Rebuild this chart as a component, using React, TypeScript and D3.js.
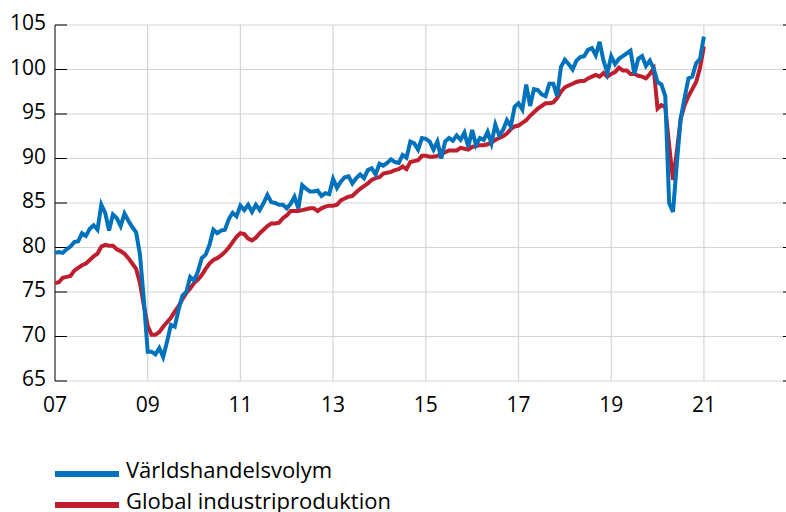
import React, { useRef, useEffect } from "react";
import * as d3 from "d3";

// monthly index values, Jan 2007 - Jan 2021
const startYear = 2007;

const tradeVolume = [
  // 2007
  79.4, 79.5, 79.4, 79.8, 80.1, 80.6, 80.7, 81.6, 81.3, 82.1, 82.5, 82.0,
  // 2008
  84.8, 83.9, 81.9, 83.7, 83.3, 82.4, 83.8, 83.0, 82.3, 81.7, 79.2, 74.1,
  // 2009
  68.3, 68.3, 68.0, 68.7, 67.7, 69.4, 71.3, 71.1, 73.0, 74.6, 75.0, 76.7,
  // 2010
  76.3, 77.3, 78.8, 79.2, 80.3, 82.0, 81.6, 81.9, 82.0, 83.2, 83.9, 83.5,
  // 2011
  84.7, 84.2, 84.8, 84.0, 84.8, 84.2, 85.0, 85.9, 85.1, 85.0, 84.8, 84.8,
  // 2012
  84.4, 84.9, 85.7, 84.4, 87.0, 86.6, 86.3, 86.3, 86.4, 85.8, 86.1, 86.0,
  // 2013
  87.7, 86.7, 87.4, 87.9, 88.0, 87.2, 87.8, 88.2, 87.8, 88.7, 88.9, 88.2,
  // 2014
  89.4, 89.2, 89.5, 89.9, 89.6, 89.5, 90.4, 90.1, 91.9, 91.7, 91.0, 92.3,
  // 2015
  92.2, 91.9, 91.0, 91.9, 90.0, 91.9, 92.3, 92.0, 92.6, 92.1, 92.9, 91.3,
  // 2016
  93.2, 91.5, 92.3, 92.1, 93.0, 91.7, 93.8, 92.6, 93.2, 94.3, 93.6, 95.8,
  // 2017
  96.2, 95.5, 98.3, 95.9, 97.8, 97.7, 97.2, 97.0, 98.4, 98.4, 97.0, 100.3,
  // 2018
  101.1, 100.6, 100.0, 101.0, 101.4, 101.5, 102.2, 102.4, 101.6, 103.1, 101.0, 99.6,
  // 2019
  101.5, 100.6, 101.2, 101.5, 101.8, 102.1, 99.5, 101.2, 101.5, 100.4, 101.0, 100.1,
  // 2020
  98.6, 98.3, 97.0, 85.0, 84.0, 89.5, 94.5, 96.8, 99.0, 99.2, 100.7, 101.2,
  // 2021
  103.7,
];

const industrialProduction = [
  // 2007
  76.0, 76.1, 76.6, 76.7, 76.8, 77.4, 77.7, 78.0, 78.2, 78.6, 79.0, 79.3,
  // 2008
  80.1, 80.3, 80.2, 80.2, 79.8, 79.6, 79.3, 78.8, 78.2, 77.6, 76.0, 73.5,
  // 2009
  71.2, 70.2, 70.2, 70.5, 71.1, 71.6, 72.1, 72.8, 73.4, 74.2, 74.9, 75.4,
  // 2010
  76.0, 76.4, 76.9, 77.6, 78.2, 78.6, 78.8, 79.1, 79.5, 80.0, 80.6, 81.2,
  // 2011
  81.6, 81.5, 81.0, 80.8, 81.1, 81.6, 82.0, 82.4, 82.7, 82.7, 82.8, 83.3,
  // 2012
  83.6, 84.1, 84.1, 84.1, 84.2, 84.3, 84.4, 84.4, 84.1, 84.4, 84.6, 84.7,
  // 2013
  84.7, 84.8, 85.3, 85.5, 85.7, 85.8, 86.2, 86.6, 86.9, 87.2, 87.6, 87.8,
  // 2014
  87.9, 88.3, 88.4, 88.5, 88.7, 88.8, 89.1, 88.8, 89.6, 89.7, 89.8, 90.3,
  // 2015
  90.3, 90.2, 90.2, 90.3, 90.5, 90.7, 90.9, 90.9, 90.9, 91.2, 91.1, 91.0,
  // 2016
  91.3, 91.4, 91.5, 91.5, 91.6, 91.8, 92.1, 92.3, 92.5, 92.8, 93.3, 93.6,
  // 2017
  93.7, 94.0, 94.3, 94.8, 95.2, 95.6, 95.9, 96.2, 96.2, 96.3, 96.8, 97.5,
  // 2018
  98.0, 98.2, 98.4, 98.6, 98.7, 98.7, 99.0, 99.2, 99.4, 99.2, 99.6, 99.2,
  // 2019
  99.5, 99.7, 100.2, 99.9, 99.9, 99.5, 99.5, 99.3, 99.2, 99.0, 99.5, 100.1,
  // 2020
  95.6, 96.0, 95.8, 91.5, 87.6, 90.8, 94.5, 96.0, 97.0, 97.8, 98.6, 100.2,
  // 2021
  102.6,
];

const seriesNames = ["Världshandelsvolym", "Global industriproduktion"];
const seriesColors = ["#0072bb", "#be1e2d"];

const yTicks = [65, 70, 75, 80, 85, 90, 95, 100, 105];
const xTickYears = [2007, 2009, 2011, 2013, 2015, 2017, 2019, 2021];
const xTickLabels = ["07", "09", "11", "13", "15", "17", "19", "21"];
const xGridYears = [2009, 2011, 2013, 2015, 2017, 2019, 2021];

function App() {
  const svgRef = useRef(null);

  useEffect(() => {
    const svg = d3.select(svgRef.current);
    svg.selectAll("*").remove();

    const width = 786;
    const font = "'Open Sans', sans-serif";

    const left = 55;
    const top = 25;
    const bottom = 381;

    const xScale = d3
      .scaleLinear()
      .domain([2007, 2023])
      .range([left, left + 16 * 46.35]);
    const yScale = d3.scaleLinear().domain([65, 105]).range([bottom, top]);

    const grid = svg.append("g");

    // horizontal gridlines
    grid
      .selectAll(".hgrid")
      .data(yTicks)
      .enter()
      .append("line")
      .attr("x1", left)
      .attr("x2", width)
      .attr("y1", (d) => yScale(d))
      .attr("y2", (d) => yScale(d))
      .attr("stroke", "#d4d4d4")
      .attr("stroke-width", 1.2);

    // vertical gridlines
    grid
      .selectAll(".vgrid")
      .data(xGridYears)
      .enter()
      .append("line")
      .attr("x1", (d) => xScale(d))
      .attr("x2", (d) => xScale(d))
      .attr("y1", top)
      .attr("y2", bottom)
      .attr("stroke", "#d4d4d4")
      .attr("stroke-width", 1.2);

    // left axis + inward ticks
    svg
      .append("line")
      .attr("x1", left)
      .attr("x2", left)
      .attr("y1", top)
      .attr("y2", bottom)
      .attr("stroke", "#000")
      .attr("stroke-width", 1);

    svg
      .selectAll(".ltick")
      .data(yTicks)
      .enter()
      .append("line")
      .attr("x1", left)
      .attr("x2", left + 12)
      .attr("y1", (d) => yScale(d))
      .attr("y2", (d) => yScale(d))
      .attr("stroke", "#000")
      .attr("stroke-width", 1);

    // right side ticks (axis sits just outside the picture)
    svg
      .selectAll(".rtick")
      .data(yTicks)
      .enter()
      .append("line")
      .attr("x1", width - 3)
      .attr("x2", width)
      .attr("y1", (d) => yScale(d))
      .attr("y2", (d) => yScale(d))
      .attr("stroke", "#000")
      .attr("stroke-width", 1);

    // y labels
    svg
      .selectAll(".ylabel")
      .data(yTicks)
      .enter()
      .append("text")
      .attr("x", 46)
      .attr("y", (d) => yScale(d) + 5)
      .attr("text-anchor", "end")
      .attr("font-family", font)
      .attr("font-size", 21)
      .attr("fill", "#000")
      .text((d) => d);

    // x labels
    svg
      .selectAll(".xlabel")
      .data(xTickYears)
      .enter()
      .append("text")
      .attr("x", (d) => xScale(d))
      .attr("y", 412)
      .attr("text-anchor", "middle")
      .attr("font-family", font)
      .attr("font-size", 21)
      .attr("fill", "#000")
      .text((d, i) => xTickLabels[i]);

    const line = d3
      .line()
      .x((d, i) => xScale(startYear + i / 12))
      .y((d) => yScale(d))
      .curve(d3.curveLinear);

    // red first, blue on top
    [industrialProduction, tradeVolume].forEach((values, k) => {
      svg
        .append("path")
        .datum(values)
        .attr("d", line)
        .attr("fill", "none")
        .attr("stroke", seriesColors[1 - k])
        .attr("stroke-width", 4)
        .attr("stroke-linejoin", "miter");
    });

    // legend
    const legend = svg.append("g");
    seriesNames.forEach((name, i) => {
      const y = 474 + i * 31;
      legend
        .append("line")
        .attr("x1", 55)
        .attr("x2", 119)
        .attr("y1", y)
        .attr("y2", y)
        .attr("stroke", seriesColors[i])
        .attr("stroke-width", 6);
      legend
        .append("text")
        .attr("x", 126)
        .attr("y", y + 4)
        .attr("font-family", font)
        .attr("font-size", 22)
        .attr("fill", "#000")
        .text(name);
    });
  }, []);

  return (
    <svg
      ref={svgRef}
      width={786}
      height={512}
      style={{ position: "absolute", left: 0, top: 0, background: "#fff" }}
    ></svg>
  );
}

export default App;
